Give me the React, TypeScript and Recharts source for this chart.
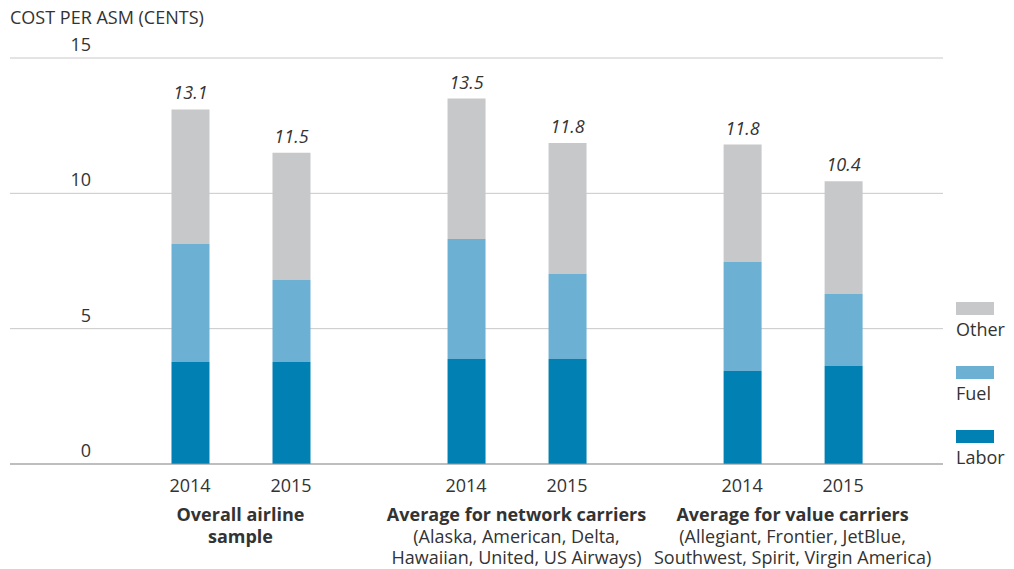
import React from "react";
import { BarChart, Bar, XAxis, YAxis, CartesianGrid, LabelList } from "recharts";

// values, cents per ASM
const groups = [
  "Overall airline sample",
  "Average for network carriers",
  "Average for value carriers",
];
const groupLines = [
  [{ t: "Overall airline", b: true }, { t: "sample", b: true }],
  [
    { t: "Average for network carriers", b: true },
    { t: "(Alaska, American, Delta,", b: false },
    { t: "Hawaiian, United, US Airways)", b: false },
  ],
  [
    { t: "Average for value carriers", b: true },
    { t: "(Allegiant, Frontier, JetBlue,", b: false },
    { t: "Southwest, Spirit, Virgin America)", b: false },
  ],
];
const years = ["2014", "2015"];
const labor = [3.77, 3.77, 3.88, 3.88, 3.44, 3.62];
const fuel = [4.36, 3.03, 4.43, 3.14, 4.02, 2.66];
const other = [4.97, 4.7, 5.19, 4.84, 4.34, 4.17];
const totals = ["13.1", "11.5", "13.5", "11.8", "11.8", "10.4"];
const yTicks = [0, 5, 10, 15];

const COLORS = { labor: "#0080b3", fuel: "#6cb0d4", other: "#c7c8ca" };
const TEXT = "#333";
const FONT = "'Open Sans', sans-serif";
const FS = 18;

// spacing: bars in a group are 1 unit apart, groups 2.733 units apart
const GROUP_STEP = 2.733;
const X_DOMAIN = [-1.782, 7.455];

const data = labor.map((_, i) => {
  const g = Math.floor(i / 2);
  const y = i % 2;
  return {
    pos: g * GROUP_STEP + y,
    year: years[y],
    group: groups[g],
    labor: labor[i],
    fuel: fuel[i],
    other: other[i],
    total: totals[i],
  };
});
const yearTicks = data.map((d) => d.pos);
const groupTicks = groups.map((_, g) => g * GROUP_STEP + 0.5);

const YearTick = (props: any) => {
  const { x, y, payload } = props;
  const d = data.find((r) => Math.abs(r.pos - payload.value) < 0.01);
  return (
    <text x={x} y={y + 20} textAnchor="middle" fill={TEXT} fontSize={FS} fontFamily={FONT}>
      {d ? d.year : ""}
    </text>
  );
};

// one <text> per group, each line a tspan
const GroupTick = (props: any) => {
  const { x, y, payload } = props;
  const g = groupTicks.findIndex((v) => Math.abs(v - payload.value) < 0.01);
  const lines = g >= 0 ? groupLines[g] : [];
  return (
    <text
      x={x}
      y={y + 19}
      textAnchor="middle"
      fill={TEXT}
      fontSize={FS}
      fontFamily={FONT}
    >
      {lines.map((l, i) => (
        <tspan key={i} x={x} dy={i === 0 ? 0 : 21.5} fontWeight={l.b ? 700 : 400}>
          {l.t}
        </tspan>
      ))}
    </text>
  );
};

const YTick = (props: any) => {
  const { y, payload } = props;
  return (
    <text x={83} y={y - 7} textAnchor="end" fill={TEXT} fontSize={FS} fontFamily={FONT}>
      {payload.value}
    </text>
  );
};

const TotalLabel = (props: any) => {
  const { x, y, width, index } = props;
  return (
    <text
      x={x + width / 2}
      y={y - 10}
      textAnchor="middle"
      fill={TEXT}
      fontSize={FS}
      fontStyle="italic"
      fontFamily={FONT}
    >
      {data[index].total}
    </text>
  );
};

const legendItems = [
  { key: "other", name: "Other" },
  { key: "fuel", name: "Fuel" },
  { key: "labor", name: "Labor" },
];

const LegendBox = () => (
  <div
    style={{
      position: "absolute",
      left: 948,
      top: 294,
      fontFamily: FONT,
      color: TEXT,
      fontSize: FS,
    }}
  >
    {legendItems.map((it) => (
      <div key={it.key} style={{ height: 64 }}>
        <div
          style={{
            width: 38,
            height: 13,
            background: COLORS[it.key as keyof typeof COLORS],
          }}
        />
        <div style={{ marginTop: 3, lineHeight: "22px" }}>{it.name}</div>
      </div>
    ))}
  </div>
);

export default function App() {
  return (
    <div style={{ position: "relative", width: 1000, height: 561, fontFamily: FONT }}>
      <div
        style={{
          position: "absolute",
          left: 2,
          top: -2,
          fontSize: FS,
          color: TEXT,
          lineHeight: "22px",
        }}
      >
        COST PER ASM (CENTS)
      </div>
      <BarChart
        width={1000}
        height={561}
        data={data}
        margin={{ top: 50, right: 65, bottom: 0, left: 0 }}
        barSize={38}
      >
        <CartesianGrid vertical={false} stroke="#c8c8c8" />
        <YAxis
          domain={[0, 15]}
          ticks={yTicks}
          width={2}
          axisLine={false}
          tickLine={false}
          tick={<YTick />}
        />
        <XAxis
          xAxisId="a"
          dataKey="pos"
          type="number"
          domain={X_DOMAIN}
          ticks={yearTicks}
          height={30}
          stroke="#999"
          tickLine={false}
          tick={<YearTick />}
          interval={0}
        />
        <XAxis
          xAxisId="b"
          dataKey="pos"
          type="number"
          domain={X_DOMAIN}
          ticks={groupTicks}
          height={75}
          axisLine={false}
          tickLine={false}
          tick={<GroupTick />}
          interval={0}
        />
        <Bar xAxisId="a" dataKey="labor" stackId="s" fill={COLORS.labor} isAnimationActive={false} />
        <Bar xAxisId="a" dataKey="fuel" stackId="s" fill={COLORS.fuel} isAnimationActive={false} />
        <Bar xAxisId="a" dataKey="other" stackId="s" fill={COLORS.other} isAnimationActive={false}>
          <LabelList dataKey="total" content={<TotalLabel />} />
        </Bar>
      </BarChart>
      <LegendBox />
    </div>
  );
}
